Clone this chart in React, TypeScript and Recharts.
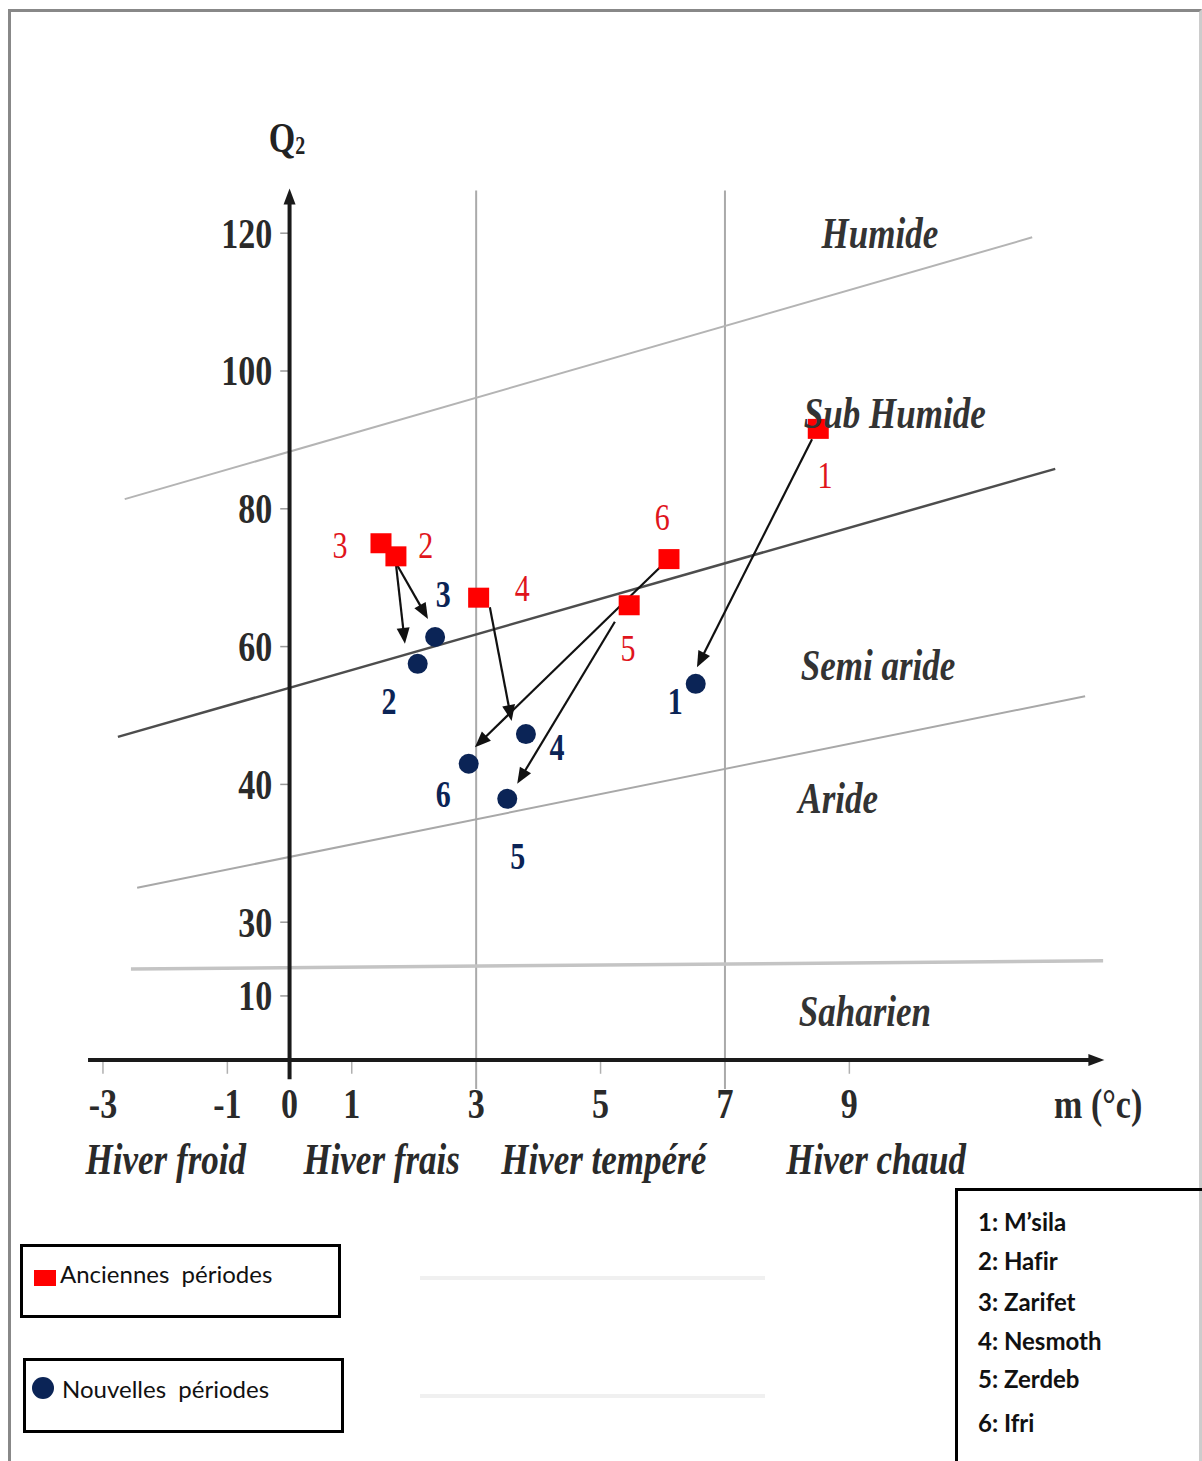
import React from 'react';
import { ComposedChart, XAxis, YAxis, Scatter, ReferenceLine } from 'recharts';

// ---------- data ----------
const stationIds = ['1', '2', '3', '4', '5', '6'];
const stationNames = ['1: M’sila', '2: Hafir', '3: Zarifet', '4: Nesmoth', '5: Zerdeb', '6: Ifri'];

// old periods (Anciennes périodes): m (°C), Q2 (plot units)
const oldM = [8.5, 1.71, 1.47, 3.04, 5.46, 6.1];
const oldQ = [91.6, 73.1, 75.0, 67.1, 66.0, 72.7];
// new periods (Nouvelles périodes)
const newM = [6.53, 2.06, 2.34, 3.8, 3.5, 2.88];
const newQ = [54.6, 57.5, 61.4, 47.3, 37.9, 43.0];

// arrows old -> new
const arrowFromM = [8.4, 1.71, 1.72, 3.22, 5.23, 5.99];
const arrowFromQ = [90.1, 72.0, 72.0, 65.7, 63.6, 71.8];
const arrowToM = [6.55, 1.855, 2.225, 3.57, 3.66, 2.98];
const arrowToQ = [57.0, 60.4, 64.0, 49.2, 40.1, 45.4];

// station number labels
const oldLabelM = [8.61, 2.19, 0.81, 3.74, 5.44, 5.99];
const oldLabelQ = [84.8, 74.7, 74.7, 68.5, 59.7, 78.7];
const newLabelM = [6.2, 1.6, 2.47, 4.3, 3.67, 2.47];
const newLabelQ = [52.0, 52.0, 67.6, 45.4, 29.6, 38.5];

// bioclimatic boundaries (segments)
const boundaryNames = ['humide', 'subhumide', 'aride', 'saharien'];
const boundaryX1 = [-2.65, -2.76, -2.45, -2.55];
const boundaryY1 = [81.4, 46.9, 25.0, 13.2];
const boundaryX2 = [11.94, 12.31, 12.79, 13.08];
const boundaryY2 = [119.4, 85.8, 52.8, 14.4];
const boundaryColor = ['#b4b4b4', '#4d4d4d', '#a8a8a8', '#c4c4c4'];
const boundaryWidth = [2, 2.5, 2, 3.5];

// winter-type separators
const winterSeparators = [3, 7];

// axis ticks
const xTickValues = [-3, -1, 0, 1, 3, 5, 7, 9];
const xTickLabels = ['-3', '-1', '0', '1', '3', '5', '7', '9'];
const yTickPos = [120, 100, 80, 60, 40, 20, 9.3];
const yTickLabels = ['120', '100', '80', '60', '40', '30', '10'];

// zone texts
const zoneNames = ['Humide', 'Sub Humide', 'Semi aride', 'Aride', 'Saharien'];
const zoneM = [9.49, 9.73, 9.46, 8.82, 9.25];
const zoneQ = [119.9, 93.8, 57.2, 37.9, 7.0];
const winterNames = ['Hiver froid', 'Hiver frais', 'Hiver tempéré', 'Hiver chaud'];
const winterM = [-1.99, 1.48, 5.05, 9.43];

const X_DOMAIN = [-3.3, 13.2];
const Y_DOMAIN = [-20, 140];

const SERIF = "'Liberation Serif', 'Times New Roman', serif";
const RED = '#ff0000';
const NAVY = '#0b2456';

type TxtProps = {
  x: number; y: number; text: string; size: number; weight?: string; italic?: boolean;
  fill?: string; anchor?: 'start' | 'middle' | 'end'; sy?: number;
};
function STxt({ x, y, text, size, weight = 'bold', italic = false, fill = '#222', anchor = 'middle', sy = 1.25 }: TxtProps) {
  return (
    <text
      transform={`translate(${x},${y}) scale(1,${sy})`}
      textAnchor={anchor}
      dominantBaseline="central"
      fontFamily={SERIF}
      fontSize={size}
      fontWeight={weight}
      fontStyle={italic ? 'italic' : 'normal'}
      fill={fill}
    >
      {text}
    </text>
  );
}

const textShape = (size: number, weight: string, italic: boolean, fill: string, anchor: 'start' | 'middle' | 'end') =>
  (p: any) => {
    if (p.cx == null || p.cy == null) return <g />;
    return <STxt x={p.cx} y={p.cy} text={p.payload.label} size={size} weight={weight} italic={italic} fill={fill} anchor={anchor} />;
  };

const arrowShape = (w: number, head: number, hw: number, color: string) => (p: any) => {
  const x1 = Number(p.x1), y1 = Number(p.y1), x2 = Number(p.x2), y2 = Number(p.y2);
  const dx = x2 - x1, dy = y2 - y1;
  const L = Math.hypot(dx, dy) || 1;
  const ux = dx / L, uy = dy / L;
  const bx = x2 - ux * head, by = y2 - uy * head;
  const px = -uy, py = ux;
  return (
    <g>
      <line x1={x1} y1={y1} x2={bx + ux * 2} y2={by + uy * 2} stroke={color} strokeWidth={w} />
      <polygon points={`${x2},${y2} ${bx + px * hw},${by + py * hw} ${bx - px * hw},${by - py * hw}`} fill={color} />
    </g>
  );
};

const squareShape = (p: any) => {
  if (p.cx == null) return <g />;
  return <rect x={p.cx - 10.5} y={p.cy - 10} width={21} height={20} fill={RED} />;
};
const circleShape = (p: any) => {
  if (p.cx == null) return <g />;
  return <circle cx={p.cx} cy={p.cy} r={10} fill={NAVY} />;
};

const oldData = oldM.map((m, i) => ({ x: m, y: oldQ[i], id: stationIds[i] }));
const newData = newM.map((m, i) => ({ x: m, y: newQ[i], id: stationIds[i] }));
const oldLabelData = oldLabelM.map((m, i) => ({ x: m, y: oldLabelQ[i], label: stationIds[i] }));
const newLabelData = newLabelM.map((m, i) => ({ x: m, y: newLabelQ[i], label: stationIds[i] }));
const yTickData = yTickPos.map((v, i) => ({ x: -0.28, y: v, label: yTickLabels[i] }));
const xTickData = xTickValues.map((v, i) => ({ x: v, y: -6.4, label: xTickLabels[i] }));
const zoneData = zoneNames.map((n, i) => ({ x: zoneM[i], y: zoneQ[i], label: n }));
const winterData = winterNames.map((n, i) => ({ x: winterM[i], y: -14.4, label: n }));
const unitData = [{ x: 13.0, y: -6.4, label: 'm (°c)' }];

const QLabel = (p: any) => {
  if (p.cx == null) return <g />;
  return (
    <text transform={`translate(${p.cx},${p.cy}) scale(1,1.25)`} textAnchor="middle" dominantBaseline="central"
      fontFamily={SERIF} fontSize={34} fontWeight="bold" fill="#222">
      Q<tspan fontSize={20} dy={6}>2</tspan>
    </text>
  );
};
const qData = [{ x: -0.04, y: 133.9 }];

export default function App() {
  const legendFont = "Lato, 'Open Sans', sans-serif";
  const noLig: React.CSSProperties = { fontVariantLigatures: 'none', fontFeatureSettings: '"liga" 0' };
  return (
    <div style={{ position: 'absolute', left: 0, top: 0, width: 1202, height: 1461, overflow: 'hidden', background: '#fff' }}>
      {/* outer frame */}
      <div style={{ position: 'absolute', left: 8, top: 9, width: 1194, height: 1470, boxSizing: 'border-box', borderTop: '3px solid #888', borderLeft: '3px solid #888', borderRight: '3px solid #ccc' }} />
      <div style={{ position: 'absolute', left: 0, top: 0 }}>
        <ComposedChart width={1202} height={1461} margin={{ left: 84.3, right: 91.4, top: 95.4, bottom: 263.2 }}>
          <XAxis type="number" dataKey="x" domain={X_DOMAIN} hide />
          <YAxis type="number" dataKey="y" domain={Y_DOMAIN} hide />

          {/* winter separators */}
          {winterSeparators.map((v) => (
            <ReferenceLine key={'ws' + v} segment={[{ x: v, y: -4.2 }, { x: v, y: 126.2 }]} stroke="#aaaaaa" strokeWidth={2} />
          ))}
          {/* boundaries */}
          {boundaryNames.map((n, i) => (
            <ReferenceLine key={n} segment={[{ x: boundaryX1[i], y: boundaryY1[i] }, { x: boundaryX2[i], y: boundaryY2[i] }]}
              stroke={boundaryColor[i]} strokeWidth={boundaryWidth[i]} />
          ))}
          {/* x ticks */}
          {xTickValues.filter((v) => v !== 0 && v !== 3 && v !== 7).map((v) => (
            <ReferenceLine key={'xt' + v} segment={[{ x: v, y: 0 }, { x: v, y: -2 }]} stroke="#b0b0b0" strokeWidth={1.5} />
          ))}
          {/* y ticks */}
          {yTickPos.map((v) => (
            <ReferenceLine key={'yt' + v} segment={[{ x: -0.15, y: v }, { x: 0, y: v }]} stroke="#999" strokeWidth={1.5} />
          ))}
          {/* axes */}
          <ReferenceLine segment={[{ x: -3.24, y: 0 }, { x: 13.1, y: 0 }]} shape={arrowShape(4, 16, 6, '#1a1a1a')} />
          <ReferenceLine segment={[{ x: 0, y: -2.8 }, { x: 0, y: 126.5 }]} shape={arrowShape(4, 16, 6, '#1a1a1a')} />

          <Scatter data={oldData} dataKey="y" shape={squareShape} isAnimationActive={false} legendType="none" />
          <Scatter data={newData} dataKey="y" shape={circleShape} isAnimationActive={false} legendType="none" />

          {/* arrows */}
          {stationIds.map((id, i) => (
            <ReferenceLine key={'ar' + id} segment={[{ x: arrowFromM[i], y: arrowFromQ[i] }, { x: arrowToM[i], y: arrowToQ[i] }]}
              shape={arrowShape(2.2, 16, 6.5, '#111')} />
          ))}

          <Scatter data={oldLabelData} dataKey="y" shape={textShape(30, 'normal', false, '#e0141c', 'middle')} isAnimationActive={false} legendType="none" />
          <Scatter data={newLabelData} dataKey="y" shape={textShape(30, 'bold', false, NAVY, 'middle')} isAnimationActive={false} legendType="none" />
          <Scatter data={yTickData} dataKey="y" shape={textShape(34, 'bold', false, '#2a2a2a', 'end')} isAnimationActive={false} legendType="none" />
          <Scatter data={xTickData} dataKey="y" shape={textShape(34, 'bold', false, '#2a2a2a', 'middle')} isAnimationActive={false} legendType="none" />
          <Scatter data={zoneData} dataKey="y" shape={textShape(35, 'bold', true, '#333', 'middle')} isAnimationActive={false} legendType="none" />
          <Scatter data={winterData} dataKey="y" shape={textShape(35, 'bold', true, '#2a2a2a', 'middle')} isAnimationActive={false} legendType="none" />
          <Scatter data={unitData} dataKey="y" shape={textShape(34, 'bold', false, '#2a2a2a', 'middle')} isAnimationActive={false} legendType="none" />
          <Scatter data={qData} dataKey="y" shape={QLabel} isAnimationActive={false} legendType="none" />
        </ComposedChart>
      </div>

      {/* faint artefact lines */}
      <div style={{ position: 'absolute', left: 420, top: 1276, width: 345, height: 4, background: '#f0f0f0' }} />
      <div style={{ position: 'absolute', left: 420, top: 1394, width: 345, height: 4, background: '#f0f0f0' }} />

      {/* legend: periods */}
      <div style={{ position: 'absolute', left: 20, top: 1244, width: 321, height: 74, boxSizing: 'border-box', border: '3px solid #000' }} />
      <div style={{ position: 'absolute', left: 34, top: 1270, width: 22, height: 16, background: RED }} />
      <div style={{ position: 'absolute', left: 60, top: 1258, height: 32, lineHeight: '32px', fontFamily: legendFont, fontSize: 24, color: '#111', whiteSpace: 'pre', ...noLig }}>Anciennes  périodes</div>

      <div style={{ position: 'absolute', left: 23, top: 1358, width: 321, height: 75, boxSizing: 'border-box', border: '3px solid #000' }} />
      <div style={{ position: 'absolute', left: 32, top: 1377, width: 22, height: 22, borderRadius: 11, background: NAVY }} />
      <div style={{ position: 'absolute', left: 62, top: 1373, height: 32, lineHeight: '32px', fontFamily: legendFont, fontSize: 24, color: '#111', whiteSpace: 'pre', ...noLig }}>Nouvelles  périodes</div>

      {/* legend: stations */}
      <div style={{ position: 'absolute', left: 955, top: 1188, width: 280, height: 300, boxSizing: 'border-box', border: '3px solid #000' }} />
      {stationNames.map((n, i) => (
        <div key={n} style={{ position: 'absolute', left: 978, top: [1222, 1261, 1302, 1341, 1379, 1423][i] - 16, height: 32, lineHeight: '32px', fontFamily: legendFont, fontSize: 24, fontWeight: 'bold', color: '#111', whiteSpace: 'pre', ...noLig }}>{n}</div>
      ))}
    </div>
  );
}
